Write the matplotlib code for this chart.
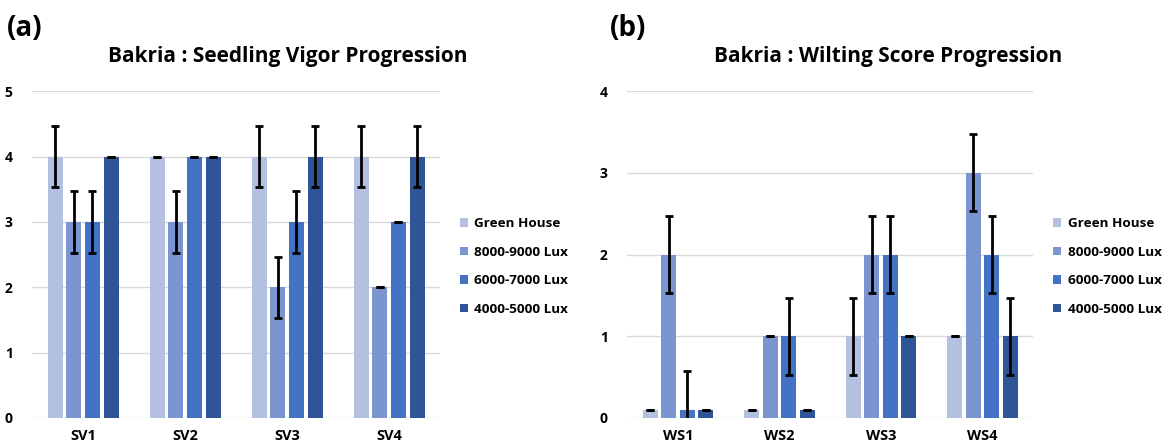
import numpy as np
import matplotlib
matplotlib.use('Agg')
import matplotlib.pyplot as plt

plt.rcParams['font.family'] = ['Open Sans', 'DejaVu Sans']
plt.rcParams['font.weight'] = 'bold'

series = ['Green House', '8000-9000 Lux', '6000-7000 Lux', '4000-5000 Lux']
colors = ['#b4c0df', '#7b95d0', '#4472c4', '#2f5597']

sv_cats = ['SV1', 'SV2', 'SV3', 'SV4']
sv_vals = [[4, 4, 4, 4],
           [3, 3, 2, 2],
           [3, 4, 3, 3],
           [4, 4, 4, 4]]
sv_err = [[0.47, 0, 0.47, 0.47],
          [0.47, 0.47, 0.47, 0],
          [0.47, 0, 0.47, 0],
          [0, 0, 0.47, 0.47]]

ws_cats = ['WS1', 'WS2', 'WS3', 'WS4']
ws_vals = [[0.1, 0.1, 1, 1],
           [2, 1, 2, 3],
           [0.1, 1, 2, 2],
           [0.1, 0.1, 1, 1]]
ws_err = [[0, 0, 0.47, 0],
          [0.47, 0, 0.47, 0.47],
          [0.47, 0.47, 0.47, 0.47],
          [0, 0, 0, 0.47]]

fig = plt.figure(figsize=(11.66, 4.44), dpi=100)


def panel(rect, cats, vals, errs, ymax, title, titlex, tag, tagx, legx):
    ax = fig.add_axes(rect)
    x = np.arange(len(cats))
    w = 0.147
    step = 0.183
    for i in range(len(series)):
        pos = x + (i - 1.5) * step
        ax.bar(pos, vals[i], w, color=colors[i], label=series[i], zorder=2)
        ax.errorbar(pos, vals[i], yerr=errs[i], fmt='none', ecolor='black',
                    elinewidth=2, capsize=3, capthick=2, zorder=3)
    ax.set_ylim(0, ymax)
    ax.set_xlim(-0.5, len(cats) - 0.5)
    ax.set_yticks(range(ymax + 1))
    ax.set_xticks(x)
    ax.set_xticklabels(cats)
    ax.grid(axis='y', color='#d9d9d9', lw=1, zorder=0)
    for s in ax.spines.values():
        s.set_visible(False)
    ax.tick_params(length=0, labelsize=10.5, pad=8)
    ax.tick_params(axis='y', labelsize=10, pad=14)
    fig.text(titlex, 0.873, title, fontsize=15, fontweight='bold', ha='center', va='center')
    fig.text(tagx, 0.935, tag, fontsize=20, fontweight='bold', ha='left', va='center')
    h, l = ax.get_legend_handles_labels()
    fig.legend(h, l, loc='center left', bbox_to_anchor=(legx, 0.40), frameon=False,
               fontsize=9.7, handlelength=0.6, handleheight=0.6, labelspacing=1.15,
               handletextpad=0.45)
    return ax


panel([0.0275, 0.0586, 0.35, 0.736], sv_cats, sv_vals, sv_err, 5,
      'Bakria : Seedling Vigor Progression', 0.247, '(a)', 0.006, 0.384)
panel([0.538, 0.0586, 0.348, 0.736], ws_cats, ws_vals, ws_err, 4,
      'Bakria : Wilting Score Progression', 0.7616, '(b)', 0.523, 0.893)

fig.savefig('out.png', dpi=100)
